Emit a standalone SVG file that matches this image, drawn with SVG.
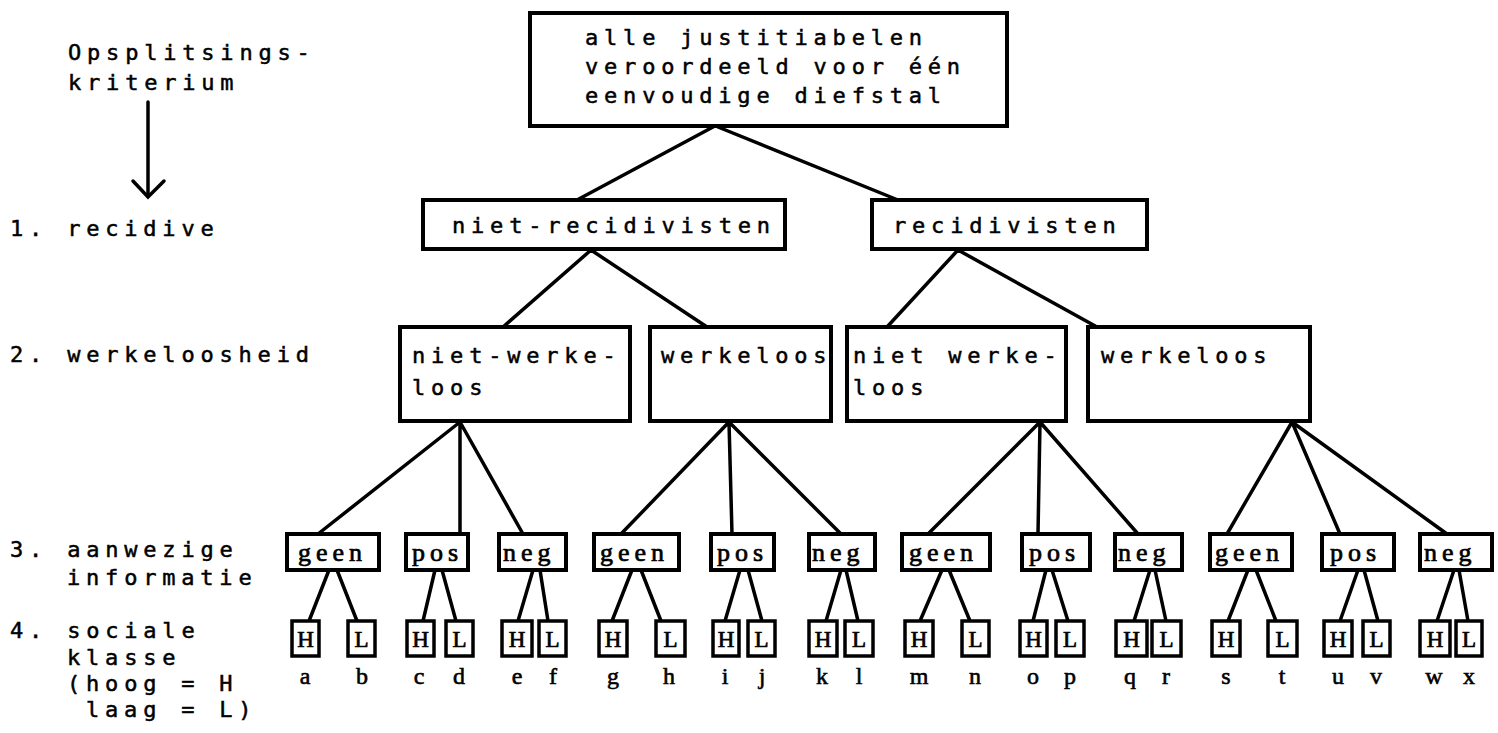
<svg xmlns="http://www.w3.org/2000/svg" width="1498" height="733" viewBox="0 0 1498 733">
<style>
.bx{fill:#fff;stroke:#000;stroke-width:4}
.sb{fill:#fff;stroke:#000;stroke-width:3.5}
.t{font-family:"DejaVu Sans Mono","Liberation Mono",monospace;font-size:22px;letter-spacing:5.8px;fill:#000;stroke:#000;stroke-width:0.5}
.s{font-family:"Liberation Serif","DejaVu Serif",serif;font-size:26px;letter-spacing:5px;fill:#000;stroke:#000;stroke-width:0.7}
.h{font-family:"Liberation Serif","DejaVu Serif",serif;font-size:23px;fill:#000;stroke:#000;stroke-width:0.7;text-anchor:middle}
.c{font-family:"Liberation Serif","DejaVu Serif",serif;font-size:24px;fill:#000;stroke:#000;stroke-width:0.6;text-anchor:middle}
.ln{stroke:#000;stroke-width:3.5;fill:none;stroke-linecap:round}
</style>
<rect width="1498" height="733" fill="#fff"/>
<g id="legend">
<text class="t" x="68" y="60">Opsplitsings-</text>
<text class="t" x="68" y="90">kriterium</text>
<path class="ln" d="M148 102 V196"/>
<path class="ln" d="M133 181 L148 197 L164 181" stroke-width="5"/>
<text class="t" x="10" y="236">1. recidive</text>
<text class="t" x="10" y="362">2. werkeloosheid</text>
<text class="t" x="10" y="557">3. aanwezige</text>
<text class="t" x="67" y="585">informatie</text>
<text class="t" x="10" y="638">4. sociale</text>
<text class="t" x="67" y="665">klasse</text>
<text class="t" x="67" y="691">(hoog = H</text>
<text class="t" x="86" y="717">laag = L)</text>
</g>
<g id="connectors">
<path class="ln" d="M713 127 L577 200 M718 127 L898 200"/>
<path class="ln" d="M591 250 L503 327 M591 250 L707 327 M958 250 L887 327 M958 250 L1097 327"/>
<path class="ln" d="M460 422 L318 534 M460 422 L460 534 M460 422 L523 534"/>
<path class="ln" d="M729 422 L621 534 M729 422 L732 534 M729 422 L841 534"/>
<path class="ln" d="M1040 422 L928 534 M1040 422 L1038 534 M1040 422 L1138 534"/>
<path class="ln" d="M1292 422 L1227 534 M1292 422 L1340 534 M1292 422 L1447 534"/>
<path class="ln" d="M329 570 L309 621 M337 570 L357 621"/>
<path class="ln" d="M435 570 L423 621 M442 570 L456 621"/>
<path class="ln" d="M533 570 L518 621 M540 570 L548 621"/>
<path class="ln" d="M632 570 L612 621 M641 570 L661 621"/>
<path class="ln" d="M740 570 L725 621 M748 570 L762 621"/>
<path class="ln" d="M841 570 L826 621 M846 570 L858 621"/>
<path class="ln" d="M942 570 L920 621 M949 570 L970 621"/>
<path class="ln" d="M1046 570 L1033 621 M1052 570 L1068 621"/>
<path class="ln" d="M1150 570 L1134 621 M1155 570 L1166 621"/>
<path class="ln" d="M1248 570 L1228 621 M1256 570 L1276 621"/>
<path class="ln" d="M1358 570 L1340 621 M1364 570 L1378 621"/>
<path class="ln" d="M1454 570 L1437 621 M1459 570 L1468 621"/>
</g>
<g id="root">
<rect class="bx" x="530" y="13" width="477" height="113"/>
<text class="t" x="585" y="45">alle justitiabelen</text>
<text class="t" x="585" y="74">veroordeeld voor één</text>
<text class="t" x="585" y="103">eenvoudige diefstal</text>
</g>
<g id="n-nietrec">
<rect class="bx" x="423" y="200" width="362" height="49"/>
<text class="t" x="452" y="233">niet-recidivisten</text>
</g>
<g id="n-rec">
<rect class="bx" x="872" y="200" width="275" height="49"/>
<text class="t" x="893" y="233">recidivisten</text>
</g>
<g id="n-nw1">
<rect class="bx" x="400" y="327" width="230" height="94"/>
<text class="t" x="412" y="363">niet-werke-</text>
<text class="t" x="412" y="395">loos</text>
</g>
<g id="n-w1">
<rect class="bx" x="650" y="327" width="181" height="94"/>
<text class="t" x="661" y="363">werkeloos</text>
</g>
<g id="n-nw2">
<rect class="bx" x="847" y="327" width="219" height="94"/>
<text class="t" x="853" y="363">niet werke-</text>
<text class="t" x="853" y="395">loos</text>
</g>
<g id="n-w2">
<rect class="bx" x="1088" y="327" width="222" height="94"/>
<text class="t" x="1101" y="363">werkeloos</text>
</g>
<g id="info">
<g id="i1"><rect class="bx" x="287" y="534" width="92" height="36"/><text class="s" x="298" y="561">geen</text></g>
<g id="i2"><rect class="bx" x="406" y="534" width="62" height="36"/><text class="s" x="412" y="561">pos</text></g>
<g id="i3"><rect class="bx" x="499" y="534" width="67" height="36"/><text class="s" x="503" y="561">neg</text></g>
<g id="i4"><rect class="bx" x="594" y="534" width="85" height="36"/><text class="s" x="600" y="561">geen</text></g>
<g id="i5"><rect class="bx" x="711" y="534" width="63" height="36"/><text class="s" x="717" y="561">pos</text></g>
<g id="i6"><rect class="bx" x="809" y="534" width="66" height="36"/><text class="s" x="812" y="561">neg</text></g>
<g id="i7"><rect class="bx" x="902" y="534" width="88" height="36"/><text class="s" x="909" y="561">geen</text></g>
<g id="i8"><rect class="bx" x="1022" y="534" width="68" height="36"/><text class="s" x="1029" y="561">pos</text></g>
<g id="i9"><rect class="bx" x="1115" y="534" width="67" height="36"/><text class="s" x="1118" y="561">neg</text></g>
<g id="i10"><rect class="bx" x="1210" y="534" width="82" height="36"/><text class="s" x="1215" y="561">geen</text></g>
<g id="i11"><rect class="bx" x="1322" y="534" width="72" height="36"/><text class="s" x="1330" y="561">pos</text></g>
<g id="i12"><rect class="bx" x="1420" y="534" width="72" height="36"/><text class="s" x="1424" y="561">neg</text></g>
</g>
<g id="klasse">
<g><rect class="sb" x="292" y="621" width="27" height="35"/><text class="h" x="305.5" y="647">H</text></g>
<g><rect class="sb" x="348" y="621" width="27" height="35"/><text class="h" x="361.5" y="647">L</text></g>
<g><rect class="sb" x="407" y="621" width="27" height="35"/><text class="h" x="420.5" y="647">H</text></g>
<g><rect class="sb" x="446" y="621" width="27" height="35"/><text class="h" x="459.5" y="647">L</text></g>
<g><rect class="sb" x="502" y="621" width="30" height="35"/><text class="h" x="517" y="647">H</text></g>
<g><rect class="sb" x="539" y="621" width="27" height="35"/><text class="h" x="552.5" y="647">L</text></g>
<g><rect class="sb" x="599" y="621" width="28" height="35"/><text class="h" x="613" y="647">H</text></g>
<g><rect class="sb" x="656" y="621" width="29" height="35"/><text class="h" x="670.5" y="647">L</text></g>
<g><rect class="sb" x="713" y="621" width="26" height="35"/><text class="h" x="726" y="647">H</text></g>
<g><rect class="sb" x="748" y="621" width="27" height="35"/><text class="h" x="761.5" y="647">L</text></g>
<g><rect class="sb" x="809" y="621" width="28" height="35"/><text class="h" x="823" y="647">H</text></g>
<g><rect class="sb" x="845" y="621" width="28" height="35"/><text class="h" x="859" y="647">L</text></g>
<g><rect class="sb" x="905" y="621" width="28" height="35"/><text class="h" x="919" y="647">H</text></g>
<g><rect class="sb" x="962" y="621" width="27" height="35"/><text class="h" x="975.5" y="647">L</text></g>
<g><rect class="sb" x="1020" y="621" width="27" height="35"/><text class="h" x="1033.5" y="647">H</text></g>
<g><rect class="sb" x="1056" y="621" width="28" height="35"/><text class="h" x="1070" y="647">L</text></g>
<g><rect class="sb" x="1116" y="621" width="31" height="35"/><text class="h" x="1131.5" y="647">H</text></g>
<g><rect class="sb" x="1152" y="621" width="29" height="35"/><text class="h" x="1166.5" y="647">L</text></g>
<g><rect class="sb" x="1212" y="621" width="28" height="35"/><text class="h" x="1226" y="647">H</text></g>
<g><rect class="sb" x="1268" y="621" width="29" height="35"/><text class="h" x="1282.5" y="647">L</text></g>
<g><rect class="sb" x="1324" y="621" width="28" height="35"/><text class="h" x="1338" y="647">H</text></g>
<g><rect class="sb" x="1363" y="621" width="27" height="35"/><text class="h" x="1376.5" y="647">L</text></g>
<g><rect class="sb" x="1420" y="621" width="30" height="35"/><text class="h" x="1435" y="647">H</text></g>
<g><rect class="sb" x="1456" y="621" width="26" height="35"/><text class="h" x="1469" y="647">L</text></g>
</g>
<g id="letters">
<text class="c" x="305" y="684">a</text>
<text class="c" x="362" y="684">b</text>
<text class="c" x="419" y="684">c</text>
<text class="c" x="459" y="684">d</text>
<text class="c" x="517" y="684">e</text>
<text class="c" x="553" y="684">f</text>
<text class="c" x="613" y="684">g</text>
<text class="c" x="669" y="684">h</text>
<text class="c" x="725" y="684">i</text>
<text class="c" x="762" y="684">j</text>
<text class="c" x="822" y="684">k</text>
<text class="c" x="859" y="684">l</text>
<text class="c" x="919" y="684">m</text>
<text class="c" x="975" y="684">n</text>
<text class="c" x="1033" y="684">o</text>
<text class="c" x="1070" y="684">p</text>
<text class="c" x="1130" y="684">q</text>
<text class="c" x="1166" y="684">r</text>
<text class="c" x="1226" y="684">s</text>
<text class="c" x="1282" y="684">t</text>
<text class="c" x="1338" y="684">u</text>
<text class="c" x="1376" y="684">v</text>
<text class="c" x="1434" y="684">w</text>
<text class="c" x="1469" y="684">x</text>
</g>
</svg>
